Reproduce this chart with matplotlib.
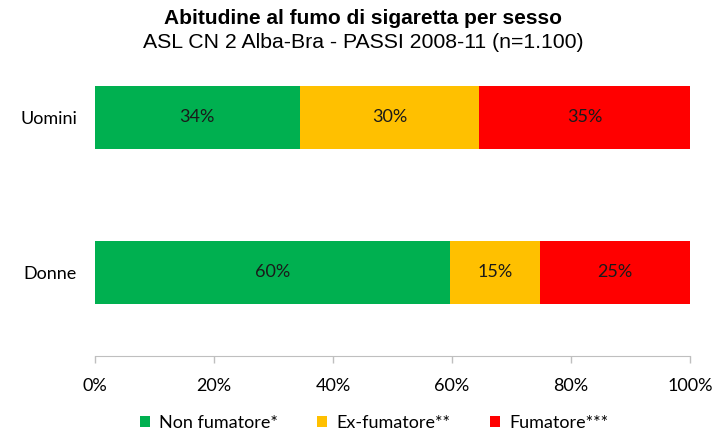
import matplotlib
matplotlib.use("Agg")
import matplotlib.pyplot as plt
from matplotlib.patches import Patch

categories = ["Donne", "Uomini"]
series_names = ["Non fumatore*", "Ex-fumatore**", "Fumatore***"]
non_fumatore = [59.7, 34.4]
ex_fumatore = [15.1, 30.2]
fumatore = [25.2, 35.4]
colors = ["#00B050", "#FFC000", "#FF0000"]
xticks = [0, 20, 40, 60, 80, 100]

fig = plt.figure(figsize=(7.26, 4.34), dpi=100)
ax = fig.add_axes([95/726, 1-356/434, (690-95)/726, (356-70)/434])

lab_font = "Lato"
fs = 13
ypos = list(range(len(categories)))
left = [0]*len(categories)
for vals, name, col in zip([non_fumatore, ex_fumatore, fumatore], series_names, colors):
    bars = ax.barh(ypos, vals, left=left, height=0.406, color=col, label=name)
    for b, v in zip(bars, vals):
        ax.text(b.get_x()+b.get_width()/2, b.get_y()+b.get_height()/2, f"{v:.0f}%",
                ha="center", va="center", fontsize=fs, family=lab_font, color="#1a1a1a")
    left = [l+v for l, v in zip(left, vals)]

ax.set_xlim(0, 100)
ax.set_ylim(-0.539, 1.306)
ax.set_yticks(ypos)
ax.set_yticklabels(categories, family=lab_font, fontsize=fs)
ax.set_xticks(xticks)
ax.set_xticklabels([f"{t}%" for t in xticks], family=lab_font, fontsize=fs)
for s in ["top", "right", "left"]:
    ax.spines[s].set_visible(False)
ax.spines["bottom"].set_color("#BFBFBF")
ax.tick_params(axis="x", colors="#BFBFBF", labelcolor="black", length=5, width=1, pad=11)
ax.tick_params(axis="y", length=0, pad=13)

fig.text(0.5, 1-19/434, "Abitudine al fumo di sigaretta per sesso", ha="center", va="center",
         fontsize=15, fontweight="bold", family="Liberation Sans")
fig.text(0.5, 1-43/434, "ASL CN 2 Alba-Bra - PASSI 2008-11 (n=1.100)", ha="center", va="center",
         fontsize=15.3, family="Liberation Sans")

handles = [Patch(facecolor=c, edgecolor="none", label=n) for c, n in zip(colors, series_names)]
fig.legend(handles=handles, loc="center", bbox_to_anchor=(0.515, 1-423/434), ncol=3, frameon=False,
           prop={"family": lab_font, "size": fs}, handlelength=0.55, handleheight=0.55,
           handletextpad=0.5, columnspacing=2.2)

fig.savefig("out.png", dpi=100)
